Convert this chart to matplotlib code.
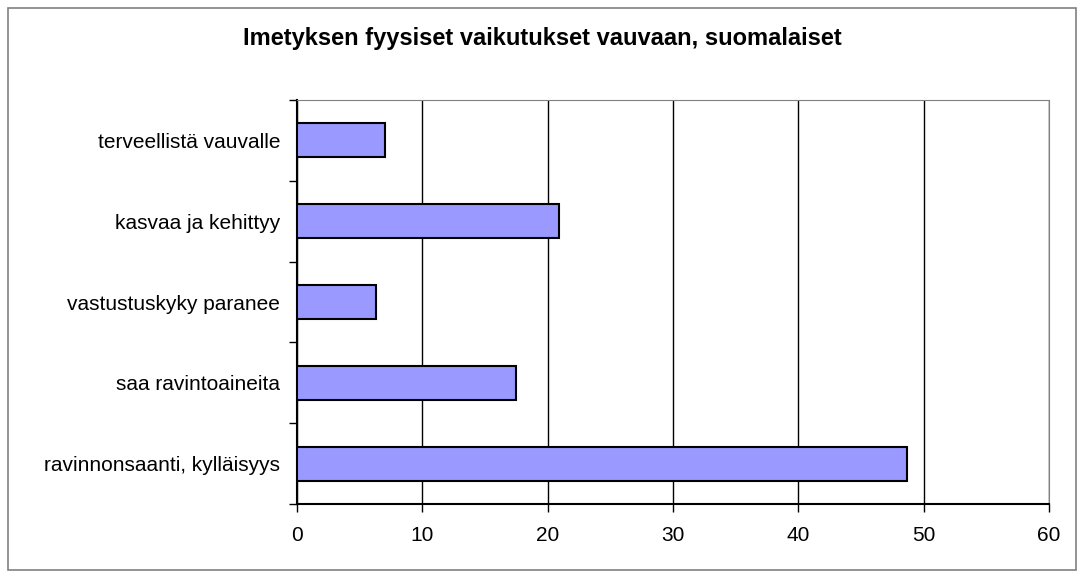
import matplotlib
matplotlib.use('Agg')
import matplotlib.pyplot as plt
import matplotlib.ticker as ticker
from matplotlib.patches import Rectangle

plt.rcParams['font.family'] = ['Liberation Sans', 'DejaVu Sans']

categories = ['ravinnonsaanti, kylläisyys', 'saa ravintoaineita',
              'vastustuskyky paranee', 'kasvaa ja kehittyy', 'terveellistä vauvalle']
values = [48.7, 17.5, 6.3, 20.9, 7.0]
xticks = [0, 10, 20, 30, 40, 50, 60]
title = 'Imetyksen fyysiset vaikutukset vauvaan, suomalaiset'

fig = plt.figure(figsize=(10.84, 5.77), dpi=100)
fig.patches.append(Rectangle((8 / 1084, 7 / 577), 1068 / 1084, 562 / 577,
                             transform=fig.transFigure, fill=False,
                             edgecolor='#808080', linewidth=1.2))

ax = fig.add_axes([297 / 1084, 73 / 577, 752 / 1084, 404 / 577])
ypos = list(range(len(categories)))
ax.barh(ypos, values, height=0.42, color='#9999FF', edgecolor='black', linewidth=1.5, zorder=3)

ax.set_xlim(0, 60)
ax.set_ylim(-0.5, len(categories) - 0.5)
ax.set_xticks(xticks)
ax.set_xticklabels([str(t) for t in xticks], fontsize=15)
ax.set_yticks(ypos)
ax.set_yticklabels(categories, fontsize=15)
ax.tick_params(axis='y', length=0, pad=12)
ax.yaxis.set_minor_locator(ticker.FixedLocator([i + 0.5 for i in range(-1, len(categories))]))
ax.tick_params(axis='y', which='minor', length=6, width=1, color='black')
ax.tick_params(axis='x', length=6, width=1, pad=10)

ax.grid(axis='x', color='black', linewidth=1, zorder=1)
for side in ['top', 'right']:
    ax.spines[side].set_color('#808080')
for side in ['left', 'bottom']:
    ax.spines[side].set_color('black')
    ax.spines[side].set_linewidth(1.5)

fig.text(0.5, 1 - 39 / 577, title, ha='center', va='center', fontsize=17, fontweight='bold')

fig.savefig('out.png', dpi=100)
